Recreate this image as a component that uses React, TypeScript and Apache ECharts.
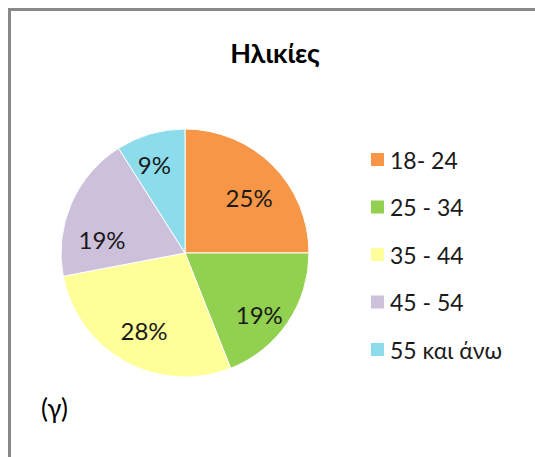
import React, { useEffect, useRef } from "react";
import * as echarts from "echarts";

const TITLE = "Ηλικίες";
const CAPTION = "(γ)";
const categories = ["18- 24", "25 - 34", "35 - 44", "45 - 54", "55 και άνω"];
const shares = [25, 19, 28, 19, 9];
const colors = ["#F79646", "#92D050", "#FFFF99", "#CCC0DA", "#8CDCEC"];

// label nudges to mimic Excel's best-fit placement (style only)
const labelNudge: [number, number][] = [
  [4, 5],
  [4, 14],
  [0, 3],
  [-5, 20],
  [-7, -7],
];

const FONT = "Lato, 'Open Sans', sans-serif";

export default function App() {
  const ref = useRef<HTMLDivElement>(null);
  useEffect(() => {
    if (!ref.current) return;
    const chart = echarts.init(ref.current, null, { renderer: "svg" });
    const data = categories.map((name, i) => ({
      name,
      value: shares[i],
      itemStyle: { color: colors[i] },
    }));
    const labelData = categories.map((name, i) => ({
      name,
      value: shares[i],
      label: { offset: labelNudge[i] },
    }));
    chart.setOption({
      animation: false,
      textStyle: { fontFamily: FONT },
      title: {
        text: TITLE,
        left: 270,
        top: 34,
        textAlign: "center",
        textStyle: { fontFamily: FONT, fontSize: 27, fontWeight: "bold", color: "#000" },
      },
      legend: {
        orient: "vertical",
        left: 364,
        top: 143,
        icon: "rect",
        itemWidth: 15,
        itemHeight: 15,
        itemGap: 24.5,
        data: categories,
        textStyle: {
          fontFamily: FONT,
          fontSize: 23,
          color: "#1a1a1a",
        },
      },
      graphic: [
        {
          type: "rect",
          shape: { x: 9.5, y: 9.5, width: 600, height: 500 },
          style: { fill: "none", stroke: "#888888", lineWidth: 3 },
          silent: true,
        },
        {
          type: "text",
          left: 41,
          top: 395,
          style: { text: CAPTION, font: `26px ${FONT}`, fill: "#000" },
        },
      ],
      series: [
        {
          type: "pie",
          center: [185, 253],
          radius: [0, 124],
          startAngle: 90,
          clockwise: true,
          data,
          label: { show: false },
          labelLine: { show: false },
          itemStyle: { borderColor: "#ffffff", borderWidth: 1 },
          emphasis: { disabled: true },
        },
        {
          type: "pie",
          center: [185, 253],
          radius: [40, 124],
          startAngle: 90,
          clockwise: true,
          data: labelData,
          silent: true,
          legendHoverLink: false,
          itemStyle: { color: "rgba(0,0,0,0)" },
          label: {
            show: true,
            position: "inside",
            formatter: "{c}%",
            fontFamily: FONT,
            fontSize: 24,
            color: "#1a1a1a",
          },
          labelLine: { show: false },
          emphasis: { disabled: true },
          tooltip: { show: false },
        },
      ],
    });
    return () => chart.dispose();
  }, []);
  return (
    <div
      ref={ref}
      style={{ position: "fixed", left: 0, top: 0, width: 535, height: 457, background: "#fff" }}
    />
  );
}
